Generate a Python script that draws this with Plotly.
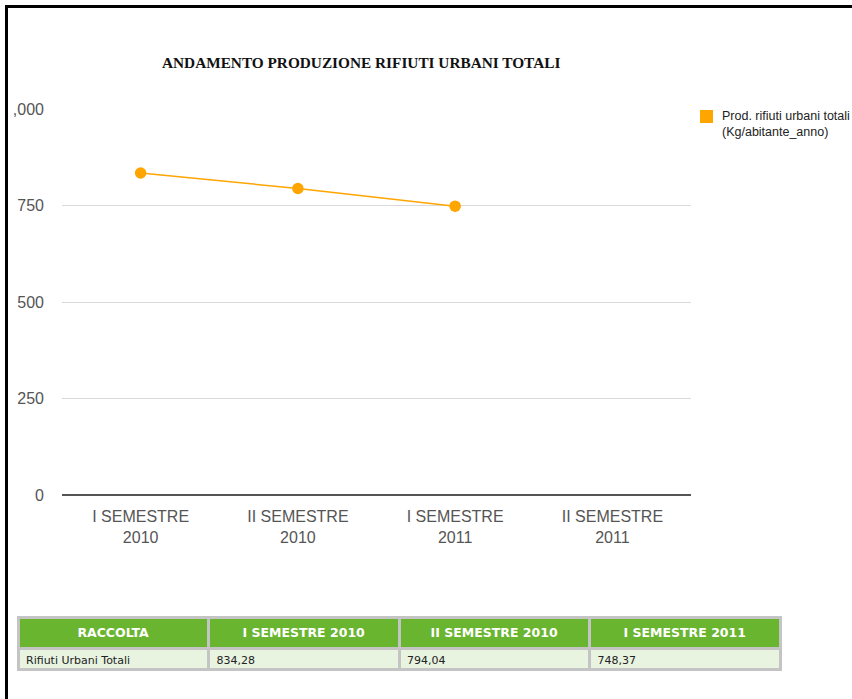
import plotly.graph_objects as go

# Categories and values
periods = ["I SEMESTRE<br>2010", "II SEMESTRE<br>2010", "I SEMESTRE<br>2011", "II SEMESTRE<br>2011"]
period_names = ["I SEMESTRE 2010", "II SEMESTRE 2010", "I SEMESTRE 2011"]
rifiuti = [834.28, 794.04, 748.37]
y_ticks = [0, 250, 500, 750, 1000]
y_ticktext = ["0", "250", "500", "750", "1,000"]
series_name = "Prod. rifiuti urbani totali<br>(Kg/abitante_anno)"
table_header = ["RACCOLTA"] + period_names
row_label = "Rifiuti Urbani Totali"

W, H = 852, 699
ML, MR, MT, MB = 18, 72, 60, 0
PW, PH = W - ML - MR, H - MT - MB


def px(x):
    return (x - ML) / PW


def py(y):
    return 1 - (y - MT) / PH


ORANGE = "#FFA500"
GREEN = "#6AB52F"

fig = go.Figure()

fig.add_trace(go.Scatter(
    x=periods[:len(rifiuti)], y=rifiuti,
    mode="lines+markers",
    line=dict(color=ORANGE, width=1.5),
    marker=dict(color=ORANGE, size=11.5),
    name=series_name, showlegend=False,
    xaxis="x", yaxis="y",
))

cells = [[row_label]] + [[f"{v:.2f}".replace(".", ",")] for v in rifiuti]
fig.add_trace(go.Table(
    domain=dict(x=[0, 1], y=[0, py(617)]),
    columnwidth=[1, 1, 1, 1],
    header=dict(
        values=[f"<b>{h}</b>" for h in table_header],
        fill_color=GREEN,
        line=dict(color="#C4C4C4", width=3),
        align="center",
        font=dict(family="DejaVu Sans", size=12.5, color="white"),
        height=22,
    ),
    cells=dict(
        values=cells,
        fill_color="#E8F3E0",
        line=dict(color="#C4C4C4", width=3),
        align="left",
        font=dict(family="DejaVu Sans", size=11, color="#222222"),
        height=21,
    ),
))

fig.update_layout(
    width=W, height=H,
    margin=dict(l=ML, r=MR, t=MT, b=MB),
    paper_bgcolor="white", plot_bgcolor="white",
    font=dict(family="Liberation Sans, Arial", color="#555555"),
    xaxis=dict(
        domain=[px(62), px(691)],
        type="category",
        categoryorder="array", categoryarray=periods,
        range=[-0.5, 3.5],
        showgrid=False, showline=False, zeroline=False,
        ticks="", ticklabelstandoff=10, automargin=False,
        tickfont=dict(size=16, color="#555555"),
    ),
    yaxis=dict(
        domain=[py(495), py(109)],
        range=[0, 1000],
        tickvals=y_ticks, ticktext=y_ticktext,
        showgrid=True, gridcolor="#D9D9D9", gridwidth=1,
        zeroline=True, zerolinecolor="#555555", zerolinewidth=2,
        showline=False, ticks="", ticklabelstandoff=17, automargin=False,
        tickfont=dict(size=16, color="#555555"),
    ),
    annotations=[
        dict(
            text="<b>ANDAMENTO PRODUZIONE RIFIUTI URBANI TOTALI</b>",
            x=px(361), y=py(63), xref="paper", yref="paper",
            xanchor="center", yanchor="middle", showarrow=False,
            font=dict(family="Liberation Serif", size=15.3, color="#111111"),
        ),
        dict(
            text=series_name,
            x=px(720), y=py(107), xref="paper", yref="paper",
            xanchor="left", yanchor="top", align="left", showarrow=False,
            font=dict(family="Liberation Sans", size=12.5, color="#222222"),
        ),
    ],
    shapes=[
        # legend swatch
        dict(type="rect", xref="paper", yref="paper",
             x0=px(700), x1=px(713), y0=py(110), y1=py(123),
             fillcolor=ORANGE, line=dict(width=0), layer="above"),
        # page clip on the left edge
        dict(type="rect", xref="paper", yref="paper",
             x0=px(0), x1=px(13), y0=py(0), y1=py(H),
             fillcolor="white", line=dict(width=0), layer="above"),
        # frame lines
        dict(type="line", xref="paper", yref="paper",
             x0=px(5), x1=px(W), y0=py(6.5), y1=py(6.5),
             line=dict(color="black", width=3), layer="above"),
        dict(type="line", xref="paper", yref="paper",
             x0=px(6.5), x1=px(6.5), y0=py(5), y1=py(H),
             line=dict(color="black", width=3), layer="above"),
    ],
)

fig.write_html("out.html")
